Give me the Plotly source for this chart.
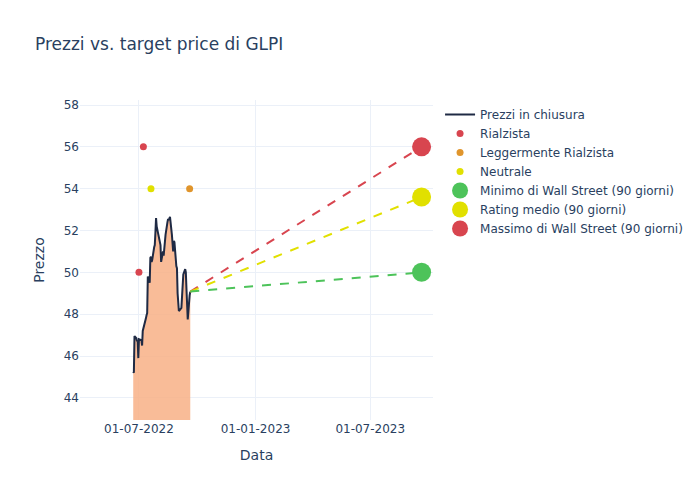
import plotly.graph_objects as go

# Closing prices
price_dates = [
    "2022-06-22", "2022-06-23", "2022-06-24", "2022-06-27", "2022-06-28", "2022-06-29", "2022-06-30",
    "2022-07-01", "2022-07-05", "2022-07-06", "2022-07-07", "2022-07-08", "2022-07-11", "2022-07-12",
    "2022-07-13", "2022-07-14", "2022-07-15", "2022-07-18", "2022-07-19", "2022-07-20", "2022-07-21",
    "2022-07-22", "2022-07-25", "2022-07-26", "2022-07-27", "2022-07-28", "2022-07-29",
    "2022-08-01", "2022-08-02", "2022-08-03", "2022-08-04", "2022-08-05", "2022-08-08", "2022-08-09",
    "2022-08-10", "2022-08-11", "2022-08-12", "2022-08-15", "2022-08-16", "2022-08-17", "2022-08-18",
    "2022-08-19", "2022-08-22", "2022-08-23", "2022-08-24", "2022-08-25", "2022-08-26", "2022-08-29",
    "2022-08-30", "2022-08-31", "2022-09-01", "2022-09-02", "2022-09-06", "2022-09-07", "2022-09-08",
    "2022-09-09", "2022-09-12", "2022-09-13", "2022-09-14", "2022-09-15", "2022-09-16", "2022-09-19",
    "2022-09-20",
]
price_values = [
    45.25, 45.20, 46.95, 46.85, 46.70, 46.75, 45.90,
    46.80, 46.75, 46.50, 47.20, 47.30, 47.60, 47.80,
    47.95, 48.05, 49.80, 49.50, 50.70, 50.75, 50.50,
    50.60, 51.20, 51.30, 51.90, 52.60, 52.20,
    51.70, 51.60, 51.50, 51.30, 50.50, 51.00, 50.80,
    51.20, 51.50, 51.80, 52.40, 52.55, 52.50, 52.60,
    52.65, 51.80, 51.30, 51.00, 51.50, 51.45, 50.30,
    50.20, 49.00, 48.50, 48.15, 48.30, 48.90, 49.40,
    49.90, 50.15, 50.00, 49.20, 48.60, 47.75, 48.90,
    49.08,
]

# Analyst ratings
bull_dates = ["2022-07-01", "2022-07-08"]
bull_values = [50, 56]
slight_bull_dates = ["2022-09-19"]
slight_bull_values = [54]
neutral_dates = ["2022-07-20"]
neutral_values = [54]

# Wall Street targets (90 days)
target_date = "2023-09-20"
target_min = 50.0
target_avg = 53.6
target_max = 56.0

C_RED = "#d8454f"
C_ORANGE = "#e0952c"
C_YELLOW = "#e1e000"
C_GREEN = "#4dc35a"

fig = go.Figure()

fig.add_trace(go.Scatter(
    x=price_dates, y=price_values, mode="lines", showlegend=False, hoverinfo="skip",
    line=dict(width=0, color="rgba(248,176,134,0.85)"),
    fill="tozeroy", fillcolor="rgba(248,176,134,0.85)",
))
fig.add_trace(go.Scatter(
    x=price_dates, y=price_values, mode="lines", name="Prezzi in chiusura",
    line=dict(color="#1f2a44", width=2),
))

last_date = price_dates[-1]
last_price = price_values[-1]
for val, col in [(target_max, C_RED), (target_avg, C_YELLOW), (target_min, C_GREEN)]:
    fig.add_trace(go.Scatter(
        x=[last_date, target_date], y=[last_price, val], mode="lines",
        line=dict(color=col, width=2, dash="dash"), showlegend=False, hoverinfo="skip",
    ))

fig.add_trace(go.Scatter(x=bull_dates, y=bull_values, mode="markers", name="Rialzista",
                         marker=dict(color=C_RED, size=7)))
fig.add_trace(go.Scatter(x=slight_bull_dates, y=slight_bull_values, mode="markers",
                         name="Leggermente Rialzista", marker=dict(color=C_ORANGE, size=7)))
fig.add_trace(go.Scatter(x=neutral_dates, y=neutral_values, mode="markers", name="Neutrale",
                         marker=dict(color=C_YELLOW, size=7)))

fig.add_trace(go.Scatter(x=[target_date], y=[target_min], mode="markers",
                         name="Minimo di Wall Street (90 giorni)", marker=dict(color=C_GREEN, size=19)))
fig.add_trace(go.Scatter(x=[target_date], y=[target_avg], mode="markers",
                         name="Rating medio (90 giorni)", marker=dict(color=C_YELLOW, size=19)))
fig.add_trace(go.Scatter(x=[target_date], y=[target_max], mode="markers",
                         name="Massimo di Wall Street (90 giorni)", marker=dict(color=C_RED, size=19)))

ymin = min(price_values) * 0.95
ymax = max(bull_values + [target_max]) * 1.04

fig.update_layout(
    template="plotly_white",
    width=700, height=500,
    font=dict(family="DejaVu Sans"),
    title=dict(text="Prezzi vs. target price di GLPI"),
    xaxis=dict(title="Data", tickformat="%d-%m-%Y", range=["2022-03-30", "2023-10-08"]),
    yaxis=dict(title="Prezzo", range=[ymin, ymax], dtick=2),
)

fig.write_html("out.html", config={"displayModeBar": False},
               post_script="document.body.style.margin='0';")
